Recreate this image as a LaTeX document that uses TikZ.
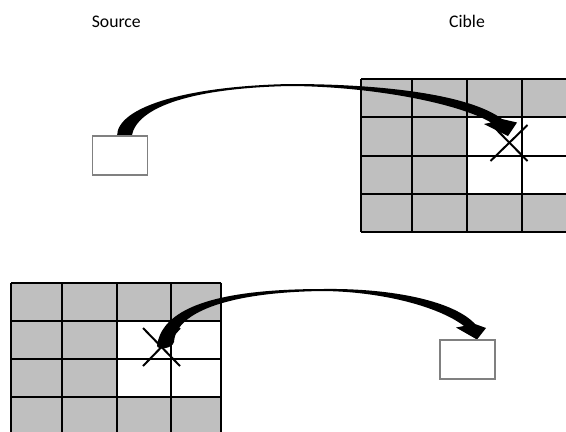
\documentclass[tikz,border=0pt]{standalone}
\usepackage{fontspec}
\setmainfont{Carlito}
\begin{document}
\begin{tikzpicture}[x=1bp,y=-1bp,
  lbl/.style={font=\fontsize{17.7bp}{20bp}\selectfont, inner sep=0pt, anchor=base},
  smallbox/.style={draw=black!50, line width=1.2bp, fill=white, minimum width=55bp, minimum height=39bp, inner sep=0pt},
  gridline/.style={line width=1.8bp, draw=black},
  cellfill/.style={fill=black!25},
  cross/.style={line width=2bp, draw=black},
  bigarrow/.style={fill=black}]
\useasboundingbox (0,0) rectangle (566,431);
\clip (0,0) rectangle (566,431);

% labels
\node[lbl] (src) at (116.3,27.3) {Source};
\node[lbl] (cib) at (467,27.3) {Cible};

% top grid (target)
\fill[cellfill] (361,79) rectangle (573,232.3);
\fill[white] (466.7,117.3) rectangle (573,194);
\foreach \x in {361,411.7,466.7,521.7}
  \draw[gridline] (\x,79) -- (\x,232.3);
\foreach \y in {79,117.3,156,194,232.3}
  \draw[gridline] (361,\y) -- (573,\y);

% bottom grid (source)
\fill[cellfill] (11,282.7) rectangle (221,436);
\fill[white] (116.7,321) rectangle (221,397.3);
\foreach \x in {11,62,116.7,170.7,221}
  \draw[gridline] (\x,282.7) -- (\x,436);
\foreach \y in {282.7,321,359.3,397.3}
  \draw[gridline] (11,\y) -- (221,\y);

% crosses
\coordinate (xt) at (509,143);
\coordinate (xb) at (161.5,347);
\draw[cross] (xt) +(-18.5,18) -- +(18.5,-18) (xt) +(-17,-18) -- +(18.5,18);
\draw[cross] (xb) +(-18.5,19) -- +(18.5,-19) (xb) +(-18.5,-19) -- +(18.5,19);

% top arrow: box -> grid
\fill[bigarrow] (117,136) .. controls (117,106) and (190,86) .. (290,84)
  .. controls (385,84) and (470,95) .. (502,119)
  -- (517,122.5) -- (508,136) -- (484,124) -- (491,122.5)
  .. controls (460,104) and (375,86.5) .. (290,86)
  .. controls (195,88) and (137,106) .. (131.7,136) -- cycle;

% bottom arrow: grid -> box
\fill[bigarrow] (157,346) .. controls (162,305) and (225,289) .. (323,289)
  .. controls (395,288) and (455,302) .. (475,324)
  -- (486,328) -- (477,339.5) -- (456,327.5) -- (464,326)
  .. controls (438,306) and (380,291.5) .. (323,291)
  .. controls (235,292) and (176,310) .. (174,342)
  .. controls (172,349) and (158,350) .. (157,346) -- cycle;

% boxes
\node[smallbox] (sbox) at (120.2,155.5) {};
\node[smallbox] (tbox) at (467.5,359.5) {};
\end{tikzpicture}
\end{document}
